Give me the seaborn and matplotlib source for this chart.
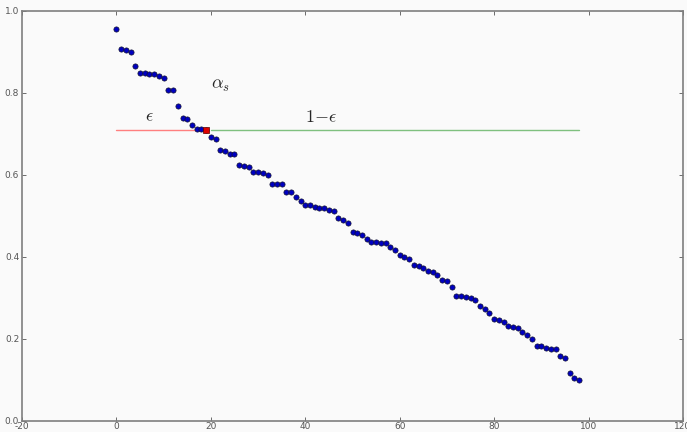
import numpy as np
import pandas as pd
import matplotlib
matplotlib.use("Agg")
import matplotlib.pyplot as plt
import seaborn as sns

# Sorted scores, one per sample index
scores = [
    0.956, 0.907, 0.906, 0.899, 0.865, 0.850, 0.848, 0.847, 0.846, 0.842,
    0.837, 0.807, 0.807, 0.768, 0.739, 0.737, 0.722, 0.713, 0.712, 0.709,
    0.692, 0.688, 0.661, 0.659, 0.652, 0.652, 0.625, 0.623, 0.620, 0.608,
    0.607, 0.604, 0.599, 0.579, 0.579, 0.578, 0.559, 0.558, 0.546, 0.537,
    0.528, 0.528, 0.521, 0.520, 0.520, 0.515, 0.513, 0.496, 0.491, 0.482,
    0.462, 0.459, 0.454, 0.445, 0.436, 0.436, 0.434, 0.434, 0.425, 0.418,
    0.404, 0.399, 0.396, 0.380, 0.377, 0.374, 0.366, 0.364, 0.355, 0.343,
    0.342, 0.326, 0.306, 0.306, 0.302, 0.300, 0.295, 0.280, 0.272, 0.264,
    0.249, 0.247, 0.242, 0.232, 0.229, 0.228, 0.216, 0.210, 0.199, 0.184,
    0.184, 0.177, 0.176, 0.175, 0.158, 0.154, 0.118, 0.106, 0.101,
]
index = list(range(len(scores)))

# Split point: the threshold sample alpha_s
split_idx = 19
alpha_s = scores[split_idx]

eps_x = [0, split_idx]
rest_x = [split_idx + 1, len(scores) - 1]

x_ticks = [-20, 0, 20, 40, 60, 80, 100, 120]
y_ticks = [0.0, 0.2, 0.4, 0.6, 0.8, 1.0]

sns.set_theme(style="white", rc={
    "figure.facecolor": "#fafafa",
    "axes.facecolor": "#fafafa",
    "axes.edgecolor": "#7f7f7f",
    "axes.linewidth": 1.2,
    "xtick.color": "#555555",
    "ytick.color": "#555555",
    "xtick.direction": "in",
    "ytick.direction": "in",
    "xtick.major.size": 3,
    "ytick.major.size": 3,
    "xtick.major.width": 0.6,
    "ytick.major.width": 0.6,
    "xtick.bottom": True,
    "xtick.top": True,
    "ytick.left": True,
    "ytick.right": True,
    "xtick.labelsize": 6.5,
    "ytick.labelsize": 6.5,
    "mathtext.fontset": "cm",
})
plt.rcParams["font.family"] = ["DejaVu Sans"]

fig = plt.figure(figsize=(6.87, 4.32), dpi=100)
ax = fig.add_axes([22 / 687, 11 / 432, 661 / 687, 410 / 432])

df = pd.DataFrame({"index": index, "score": scores})

sns.lineplot(x=eps_x, y=[alpha_s, alpha_s], color="#ff7f7f",
             linewidth=1.0, ax=ax)
sns.lineplot(x=rest_x, y=[alpha_s, alpha_s], color="#7fc07f",
             linewidth=1.0, ax=ax)

sns.scatterplot(data=df, x="index", y="score", color="#0000c0",
                edgecolor="#101030", linewidth=0.5, s=14, ax=ax, zorder=3)
sns.scatterplot(x=[split_idx], y=[alpha_s], marker="s", color="#dd0000",
                edgecolor="#600000", linewidth=0.5, s=14, ax=ax, zorder=4)

ax.text(6, 0.73, r"$\epsilon$", fontsize=13)
ax.text(20, 0.81, r"$\alpha_s$", fontsize=13)
ax.text(40, 0.73, r"$1{-}\epsilon$", fontsize=13)

ax.set_xlim(-20, 120)
ax.set_ylim(0.0, 1.0)
ax.set_xticks(x_ticks)
ax.set_yticks(y_ticks)
ax.set_xticklabels([str(t) for t in x_ticks])
ax.set_yticklabels([f"{t:.1f}" for t in y_ticks])
ax.tick_params(axis="x", pad=1)
ax.tick_params(axis="y", pad=2)
ax.set_xlabel("")
ax.set_ylabel("")

fig.savefig("out.png", dpi=100, facecolor=fig.get_facecolor())
